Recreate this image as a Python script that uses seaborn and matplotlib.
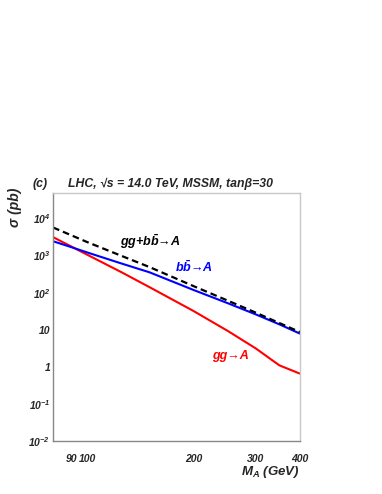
import matplotlib
matplotlib.use("Agg")
import numpy as np
import pandas as pd
import matplotlib.pyplot as plt
import matplotlib.ticker as mticker
import seaborn as sns

# cross sections (pb) vs M_A (GeV)
mass = [80, 90, 100, 125, 150, 200, 250, 300, 350, 400]
sigma_gg = [3130, 1760, 1050, 355, 141, 32, 9.3, 3.15, 1.1, 0.66]
sigma_bb = [2430, 1690, 1210, 610, 354, 118, 52, 26, 14, 7.9]
sigma_sum = [5700, 3530, 2300, 980, 490, 150, 61, 29, 15.2, 8.7]

y_ticks = [1e-2, 1e-1, 1, 10, 1e2, 1e3, 1e4]
y_ticklabels = [r"$10^{-2}$", r"$10^{-1}$", "1", "10", r"$10^{2}$", r"$10^{3}$", r"$10^{4}$"]
x_ticks = [90, 100, 200, 300, 400]
x_ticklabels = ["90", "100", "200", "300", "400"]

sns.set_style("white")
plt.rcParams['font.family'] = ['Liberation Sans', 'DejaVu Sans']
plt.rcParams['font.weight'] = 'bold'
plt.rcParams['font.style'] = 'italic'
plt.rcParams['mathtext.fontset'] = 'custom'
plt.rcParams['mathtext.rm'] = 'Liberation Sans:bold:italic'
plt.rcParams['mathtext.it'] = 'Liberation Sans:bold:italic'
plt.rcParams['mathtext.bf'] = 'Liberation Sans:bold:italic'

df = pd.DataFrame({"mass": mass, "gg": sigma_gg, "bb": sigma_bb, "sum": sigma_sum})

red = "#ff0000"
blue = "#0000ff"

fig = plt.figure(figsize=(3.82, 4.94), dpi=100)
ax = fig.add_axes([0.139, 0.107, 0.646, 0.502])

sns.lineplot(data=df, x="mass", y="gg", ax=ax, color=red, lw=1.5)
sns.lineplot(data=df, x="mass", y="bb", ax=ax, color=blue, lw=1.5)
sns.lineplot(data=df, x="mass", y="sum", ax=ax, color="black", lw=1.6,
             linestyle=(0, (3, 1.8)))

ax.set_xscale("log")
ax.set_yscale("log")
ax.set_xlim(80, 400)
ax.set_ylim(1e-2, 4.8e4)
ax.set_xlabel("")
ax.set_ylabel("")

ax.xaxis.set_major_locator(mticker.FixedLocator(x_ticks))
ax.xaxis.set_major_formatter(mticker.FixedFormatter(x_ticklabels))
ax.xaxis.set_minor_locator(mticker.NullLocator())
ax.yaxis.set_major_locator(mticker.FixedLocator(y_ticks))
ax.yaxis.set_major_formatter(mticker.FixedFormatter(y_ticklabels))
ax.yaxis.set_minor_locator(mticker.LogLocator(base=10, subs=np.arange(2, 10)))
ax.yaxis.set_minor_formatter(mticker.NullFormatter())

ax.tick_params(axis="x", which="major", direction="in", length=5, width=0.8,
               color="#777777", pad=9, labelsize=7.5)
ax.tick_params(axis="y", which="major", direction="in", length=5, width=0.8,
               color="#777777", pad=2, labelsize=7.5)
ax.tick_params(axis="y", which="minor", direction="in", length=2.5, width=0.6,
               color="#777777")

for side in ["left", "bottom"]:
    ax.spines[side].set_color("#888888")
    ax.spines[side].set_linewidth(1.0)
for side in ["top", "right"]:
    ax.spines[side].set_color("#c8c8c8")
    ax.spines[side].set_linewidth(1.0)

# curve labels
ax.text(124, 2390, r"gg+b$\bar{b}$→A", color="black", fontsize=9, va="center")
ax.text(177, 474, r"b$\bar{b}$→A", color=blue, fontsize=9, va="center")
ax.text(225, 1.98, "gg→A", color=red, fontsize=9, va="center")

fig.text(0.086, 0.628, "(c)", fontsize=8.8, va="center")
fig.text(0.178, 0.628, "LHC, √s = 14.0 TeV, MSSM, tanβ=30", fontsize=8.8, va="center")
fig.text(0.039, 0.581, "σ (pb)", fontsize=10, rotation=90, ha="center", va="center")
fig.text(0.785, 0.045, r"M$_A$ (GeV)", fontsize=9.5, ha="right", va="center")

fig.savefig("out.png", dpi=100, facecolor="white")
